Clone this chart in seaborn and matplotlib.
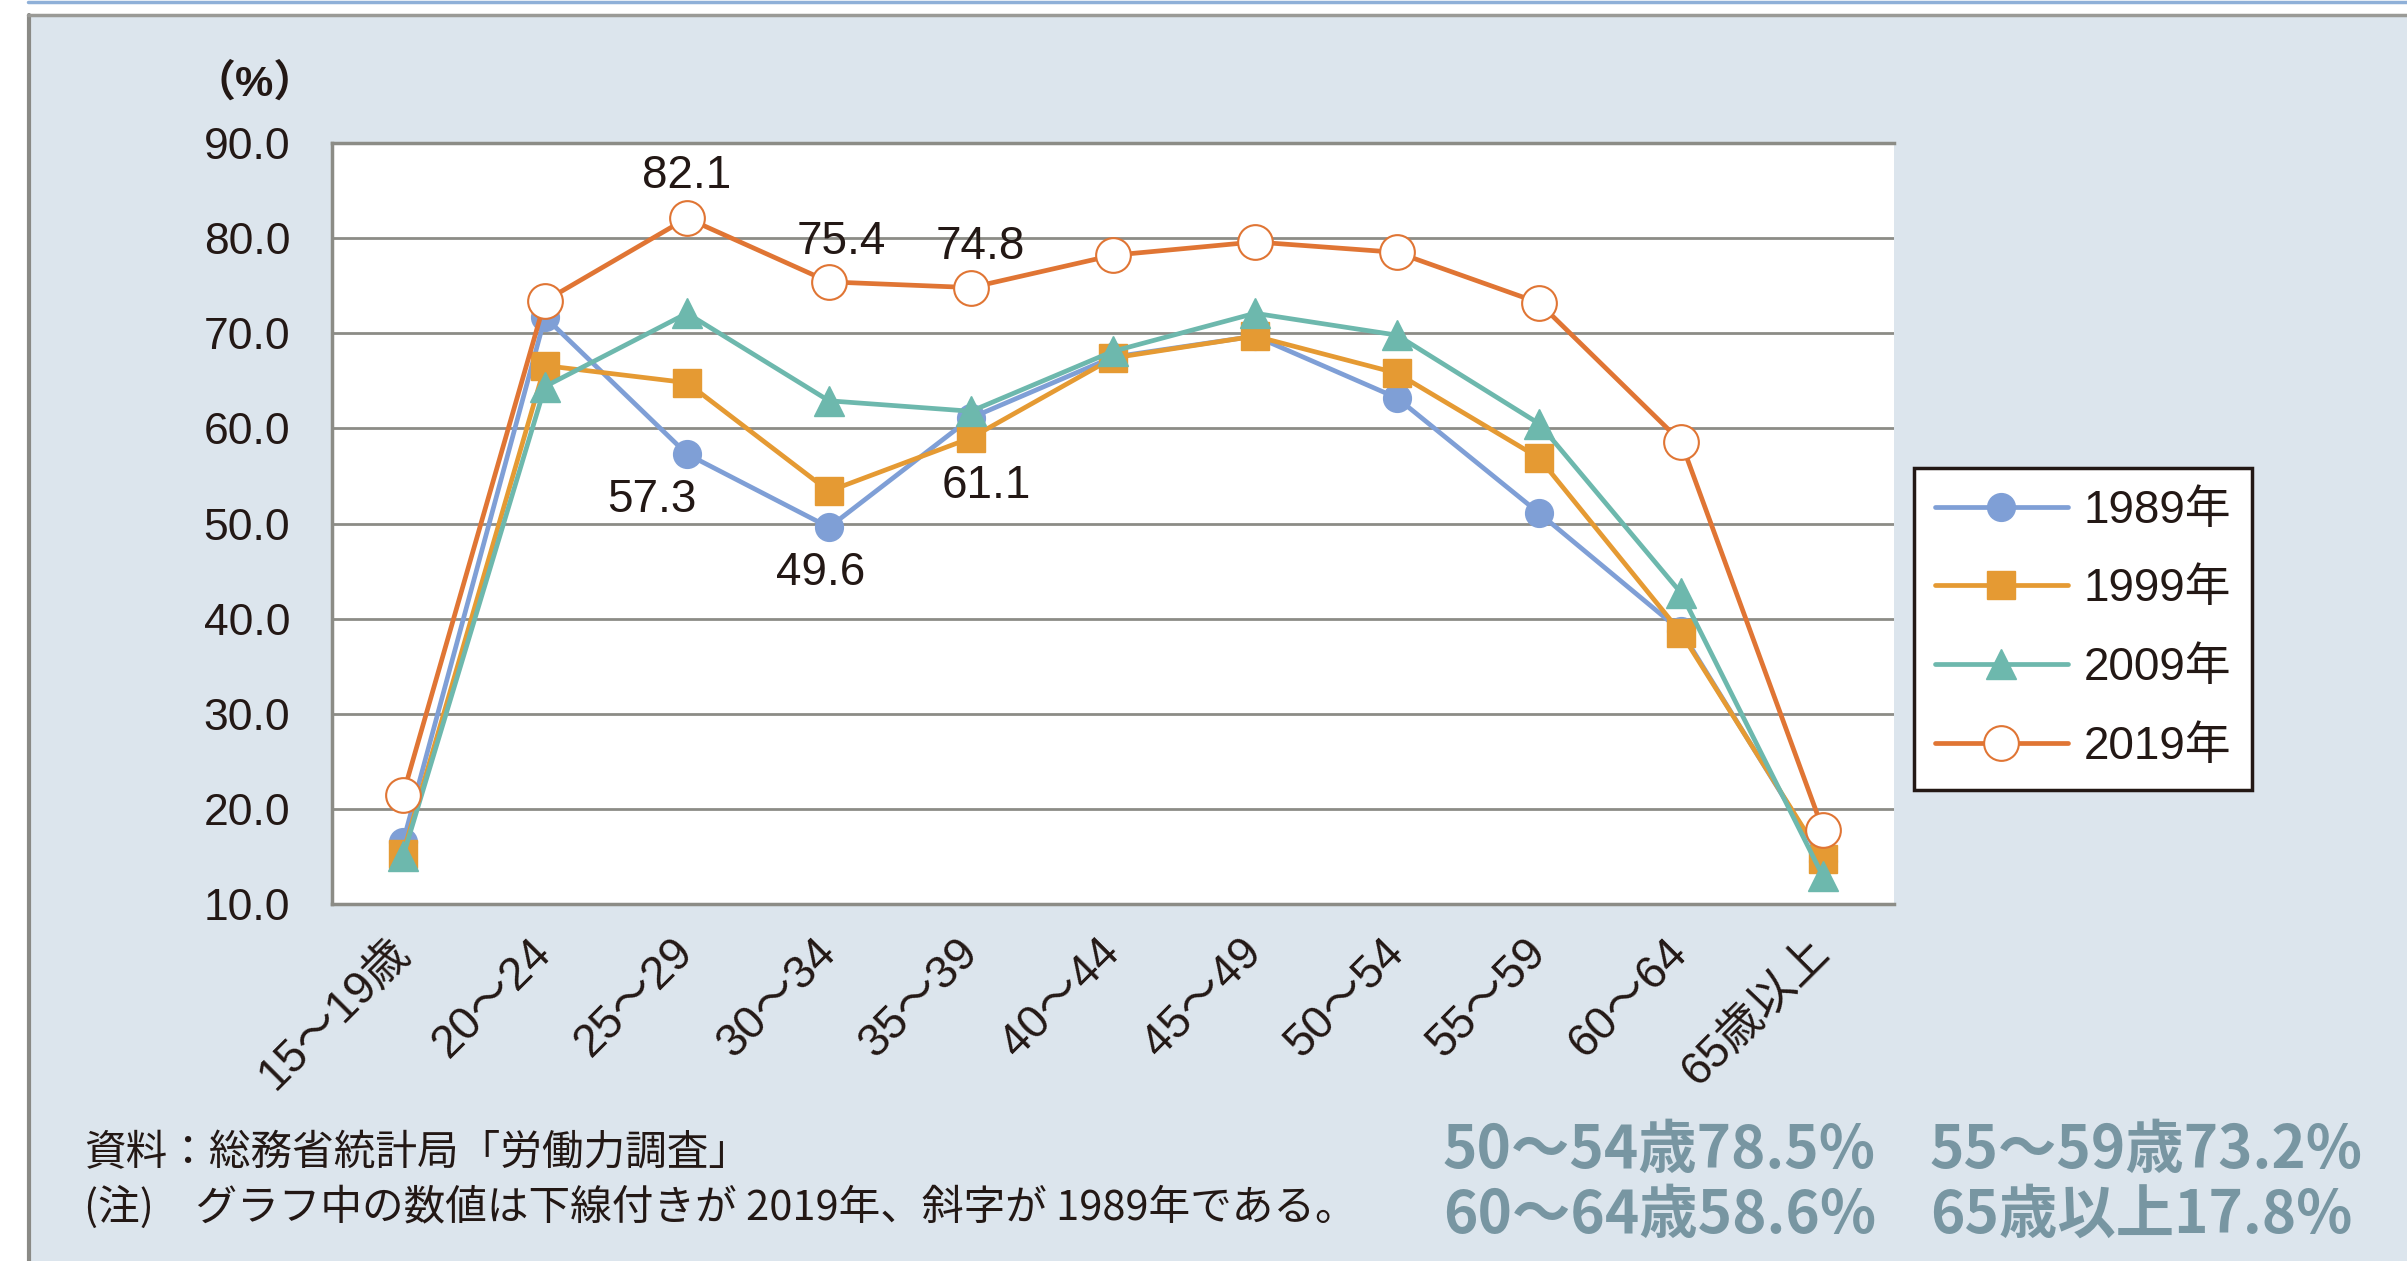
import numpy as np
import pandas as pd
import matplotlib
matplotlib.use("Agg")
import matplotlib.pyplot as plt
import seaborn as sns
from matplotlib.patches import Rectangle
from matplotlib.lines import Line2D

# ---------------- data ----------------
categories = ["15〜19歳", "20〜24", "25〜29", "30〜34", "35〜39", "40〜44",
              "45〜49", "50〜54", "55〜59", "60〜64", "65歳以上"]
years = ["1989年", "1999年", "2009年", "2019年"]
rate_1989 = [16.5, 71.7, 57.3, 49.6, 61.1, 67.5, 69.7, 63.2, 51.1, 38.7, 14.5]
rate_1999 = [15.3, 66.6, 64.8, 53.4, 59.0, 67.4, 69.7, 65.8, 56.9, 38.5, 14.7]
rate_2009 = [15.0, 64.4, 72.1, 62.9, 61.8, 68.1, 72.1, 69.8, 60.5, 42.7, 12.9]
rate_2019 = [21.5, 73.4, 82.1, 75.4, 74.8, 78.2, 79.6, 78.5, 73.2, 58.6, 17.8]
y_ticks = [10.0, 20.0, 30.0, 40.0, 50.0, 60.0, 70.0, 80.0, 90.0]

# labelled points: (year, category)
labelled_2019 = ["25〜29", "30〜34", "35〜39"]
labelled_1989 = ["25〜29", "30〜34", "35〜39"]

source_note = "資料：総務省統計局「労働力調査」"
footnote = "(注)　グラフ中の数値は下線付きが 2019年、斜字が 1989年である。"
callouts = ["50〜54歳78.5%", "55〜59歳73.2%", "60〜64歳58.6%", "65歳以上17.8%"]

series = dict(zip(years, [rate_1989, rate_1999, rate_2009, rate_2019]))
rows = []
for y, vals in series.items():
    for i, (c, v) in enumerate(zip(categories, vals)):
        rows.append({"year": y, "pos": i, "age": c, "rate": v})
df = pd.DataFrame(rows)

# ---------------- style ----------------
sns.set_style("white")
plt.rcParams["font.family"] = ["Liberation Sans", "Noto Sans CJK JP"]
TXT = "#231815"
PANEL = "#dce5ed"

W, H = 2407, 1261
fig = plt.figure(figsize=(W / 100, H / 100), dpi=100)
fig.patch.set_facecolor("white")

# panel background & borders
fig.patches.append(Rectangle((28 / W, 0), 1 - 28 / W, 1 - 15 / H, transform=fig.transFigure,
                             facecolor=PANEL, edgecolor="none", zorder=-10))
fig.lines.append(Line2D([29 / W, 29 / W], [0, 1 - 15 / H], transform=fig.transFigure,
                        color="#8a8a86", lw=3, zorder=-5))
fig.lines.append(Line2D([28 / W, 1], [1 - 15 / H, 1 - 15 / H], transform=fig.transFigure,
                        color="#9a9a96", lw=2.5, zorder=-5))
fig.lines.append(Line2D([28 / W, 1], [1 - 1.5 / H, 1 - 1.5 / H], transform=fig.transFigure,
                        color="#8fb0d8", lw=2.5, zorder=-5))

left, right, top, bottom = 332, 1894, 143, 904
ax = fig.add_axes([left / W, 1 - bottom / H, (right - left) / W, (bottom - top) / H])
ax.set_facecolor("white")

styles = {
    "1989年": dict(color="#7f9fd6", marker="o", markersize=20, markerfacecolor="#7f9fd6",
                   markeredgecolor="#7f9fd6", markeredgewidth=1),
    "1999年": dict(color="#e59a33", marker="s", markersize=20, markerfacecolor="#e59a33",
                   markeredgecolor="#e59a33", markeredgewidth=1),
    "2009年": dict(color="#6db8ad", marker="^", markersize=22, markerfacecolor="#6db8ad",
                   markeredgecolor="#6db8ad", markeredgewidth=1),
    "2019年": dict(color="#e07534", marker="o", markersize=25, markerfacecolor="white",
                   markeredgecolor="#e07534", markeredgewidth=1.5),
}
for y in years:
    sub = df[df["year"] == y]
    sns.lineplot(data=sub, x="pos", y="rate", ax=ax, linewidth=3.4, label=y,
                 errorbar=None, **styles[y])

ax.set_xlim(-0.5, len(categories) - 0.5)
ax.set_ylim(y_ticks[0], y_ticks[-1])
ax.set_yticks(y_ticks)
ax.set_yticklabels([f"{t:.1f}" for t in y_ticks])
ax.set_xticks(range(len(categories)))
ax.set_xticklabels(categories, rotation=45, ha="right", va="center", rotation_mode="anchor")
ax.set_xlabel("")
ax.set_ylabel("")
ax.tick_params(axis="y", length=0, pad=30, labelsize=32, labelcolor=TXT)
ax.tick_params(axis="x", length=0, pad=30, labelsize=33, labelcolor=TXT)

ax.grid(axis="y", color="#8c8c86", lw=2)
ax.grid(axis="x", visible=False)
ax.set_axisbelow(True)
for s in ["top", "left", "bottom"]:
    ax.spines[s].set_color("#8c8c86")
    ax.spines[s].set_linewidth(2.5)
ax.spines["right"].set_visible(False)

# data labels
off_2019 = {"25〜29": (0, 42), "30〜34": (12, 40), "35〜39": (9, 41)}
off_1989 = {"25〜29": (-35, -46), "30〜34": (-8, -46), "35〜39": (15, -68)}
for c in labelled_2019:
    i = categories.index(c)
    v = rate_2019[i]
    ax.annotate(f"{v:.1f}", (i, v), xytext=off_2019[c], textcoords="offset pixels",
                ha="center", va="center", fontsize=33, color=TXT, zorder=10)
for c in labelled_1989:
    i = categories.index(c)
    v = rate_1989[i]
    ax.annotate(f"{v:.1f}", (i, v), xytext=off_1989[c], textcoords="offset pixels",
                ha="center", va="center", fontsize=33, color=TXT, zorder=10)

# unit
fig.text(255 / W, 1 - 84 / H, "（%）", ha="center", va="center", fontsize=31,
         fontweight="bold", color=TXT)

# legend
handles, labels = ax.get_legend_handles_labels()
leg = ax.legend(handles, labels, loc="upper left", bbox_to_anchor=(1914 / W, 1 - 468 / H),
                bbox_transform=fig.transFigure, frameon=True, fancybox=False,
                fontsize=33, handlelength=2.9, labelspacing=0.76, borderpad=0.45,
                handletextpad=0.35, borderaxespad=0)
leg.get_frame().set_edgecolor("#231815")
leg.get_frame().set_linewidth(2.5)
leg.get_frame().set_facecolor("white")
leg.get_frame().set_alpha(1)
for t in leg.get_texts():
    t.set_color(TXT)

# notes
fig.text(84 / W, 1 - 1154 / H, source_note, ha="left", va="center", fontsize=30,
         color=TXT, family=["Noto Sans CJK JP"])
fig.text(84 / W, 1 - 1207 / H, footnote, ha="left", va="center", fontsize=30,
         color=TXT, family=["Noto Sans CJK JP"])

CALL = "#7896a2"
pos = [(1443, 1151), (1930, 1151), (1443, 1216), (1930, 1216)]
for (x, y), t in zip(pos, callouts):
    fig.text(x / W, 1 - y / H, t, ha="left", va="center", fontsize=42, fontweight="bold",
             color=CALL, family=["Noto Sans CJK JP"])

fig.savefig("out.png", dpi=100, facecolor=fig.get_facecolor())
